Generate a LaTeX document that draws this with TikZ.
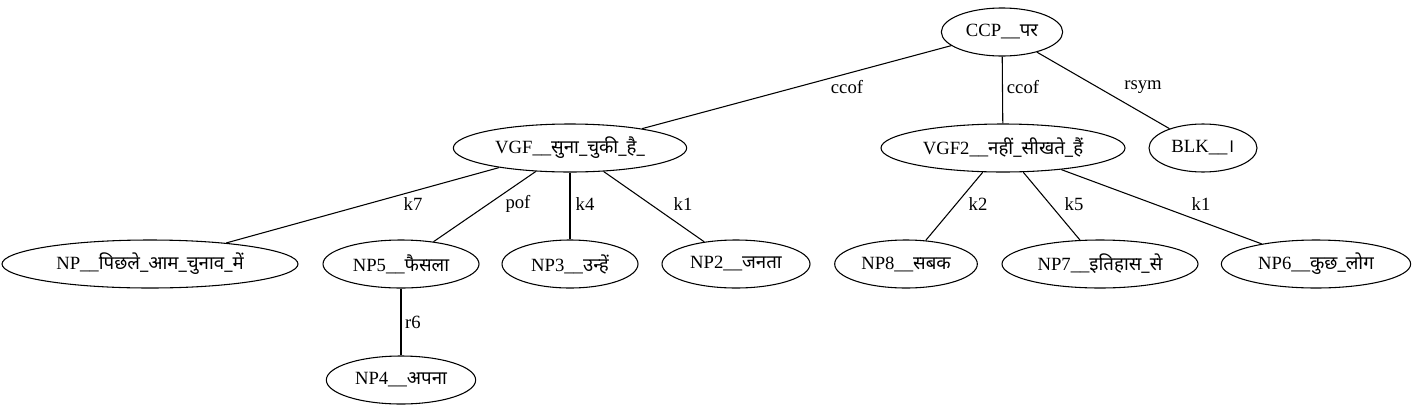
\documentclass[tikz,border=0pt]{standalone}
\usepackage{fontspec}
\setmainfont{Liberation Serif}
\newfontfamily\deva[Script=Devanagari]{Noto Sans}
\usetikzlibrary{shapes.geometric}

\begin{document}
\begin{tikzpicture}[x=0.75pt,y=-0.75pt,
        tok/.style={draw,ellipse,line width=0.8pt,inner sep=0pt,minimum height=36pt,
            font=\fontsize{14pt}{16pt}\selectfont},
        rel/.style={inner sep=0pt,font=\fontsize{14pt}{16pt}\selectfont},
        dep/.style={line width=0.8pt}]
    \useasboundingbox (0,0) rectangle (1416,411);

    % Chunks
    \node[tok,minimum width=91pt] (ccp) at (1002,32) {CCP\_\_{\deva पर}};
    \node[tok,minimum width=175pt] (vgf) at (570,148) {VGF\_\_{\deva सुना\_चुकी\_है\_}};
    \node[tok,minimum width=183pt] (vgf2) at (1003,148) {VGF2\_\_{\deva नहीं\_सीखते\_हैं}};
    \node[tok,minimum width=81pt] (blk) at (1203,148) {BLK\_\_{\deva ।}};
    \node[tok,minimum width=222pt] (np) at (150,264) {NP\_\_{\deva पिछले\_आम\_चुनाव\_में}};
    \node[tok,minimum width=117pt] (np5) at (401,264) {NP5\_\_{\deva फैसला}};
    \node[tok,minimum width=102pt] (np3) at (570,264) {NP3\_\_{\deva उन्हें}};
    \node[tok,minimum width=111pt] (np2) at (736,264) {NP2\_\_{\deva जनता}};
    \node[tok,minimum width=107pt] (np8) at (906,264) {NP8\_\_{\deva सबक}};
    \node[tok,minimum width=147pt] (np7) at (1100,264) {NP7\_\_{\deva इतिहास\_से}};
    \node[tok,minimum width=142pt] (np6) at (1316,264) {NP6\_\_{\deva कुछ\_लोग}};
    \node[tok,minimum width=112pt] (np4) at (401,380) {NP4\_\_{\deva अपना}};

    % Relations
    \draw[dep] (ccp) -- (vgf) node[rel] at (847,87) {ccof};
    \draw[dep] (ccp) -- (vgf2) node[rel] at (1023,87) {ccof};
    \draw[dep] (ccp) -- (blk) node[rel] at (1143,87) {rsym};
    \draw[dep] (vgf) -- (np) node[rel] at (413,204) {k7};
    \draw[dep] (vgf) -- (np5) node[rel] at (518,204) {pof};
    \draw[dep] (vgf) -- (np3) node[rel] at (585,204) {k4};
    \draw[dep] (vgf) -- (np2) node[rel] at (683,204) {k1};
    \draw[dep] (vgf2) -- (np8) node[rel] at (978,204) {k2};
    \draw[dep] (vgf2) -- (np7) node[rel] at (1074,204) {k5};
    \draw[dep] (vgf2) -- (np6) node[rel] at (1201,204) {k1};
    \draw[dep] (np5) -- (np4) node[rel] at (413,322) {r6};
\end{tikzpicture}
\end{document}
